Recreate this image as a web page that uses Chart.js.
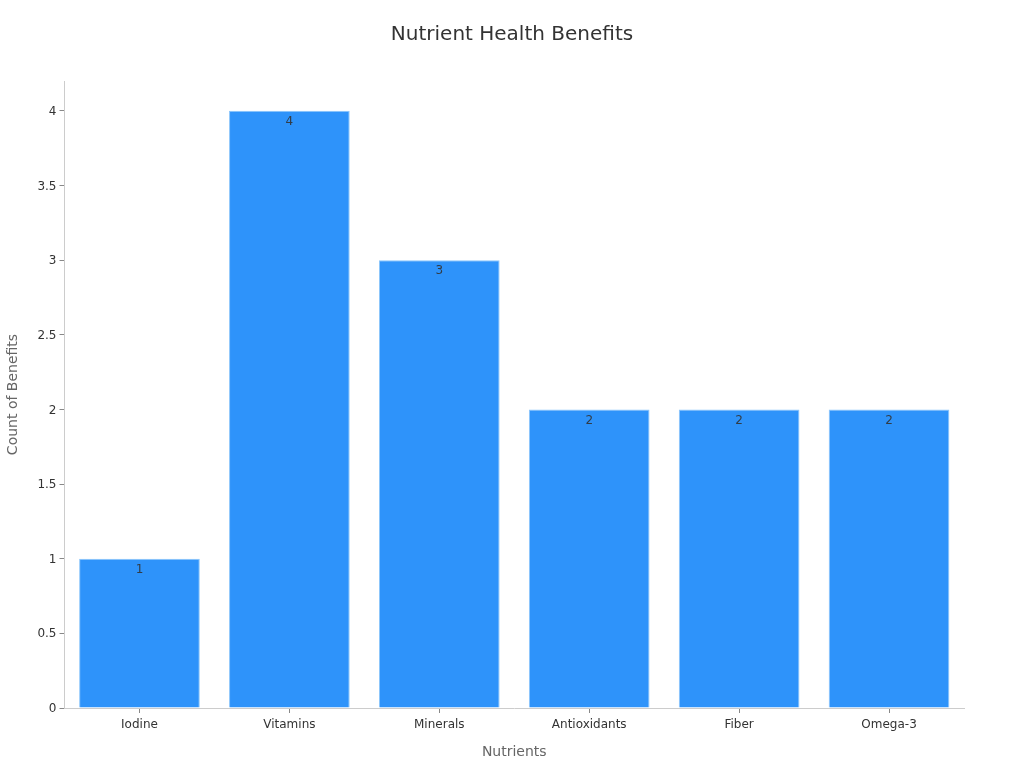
<!DOCTYPE html>
<html>
<head>
<meta charset="utf-8">
<style>
html, body { margin: 0; padding: 0; background: #fff; }
#wrap { position: relative; width: 1024px; height: 768px; }
</style>
<script src="https://cdn.jsdelivr.net/npm/chart.js@4"></script>
</head>
<body>
<div id="wrap"><canvas id="chart" width="1024" height="768"></canvas></div>
<script>
const categories = ["Iodine", "Vitamins", "Minerals", "Antioxidants", "Fiber", "Omega-3"]
const benefits = [1, 4, 3, 2, 2, 2]
const yTicks = [0, 0.5, 1, 1.5, 2, 2.5, 3, 3.5, 4]

// value labels sit just inside the top of each bar
const valueLabels = {
    id: "valueLabels",
    afterDatasetsDraw(chart) {
        const ctx = chart.ctx
        ctx.save()
        ctx.font = "12px 'DejaVu Sans'"
        ctx.fillStyle = "rgba(51,51,51,0.9)"
        ctx.textAlign = "center"
        ctx.textBaseline = "middle"
        chart.getDatasetMeta(0).data.forEach(function(bar, i){
            ctx.fillText(benefits[i], bar.x, bar.y + 11)
        })
        ctx.restore()
    }
}

// title is centred on the whole page, not on the padded layout box
const centerTitle = {
    id: "centerTitle",
    afterLayout(chart) {
        chart.titleBlock.left = 0
        chart.titleBlock.right = chart.width
    }
}

new Chart("chart", {
    type: "bar",
    data: {
        labels: categories,
        datasets: [{
            label: "Count of Benefits",
            data: benefits,
            backgroundColor: "#2e93fa",
            borderColor: "#8cc6fb",
            borderWidth: 1,
            categoryPercentage: 0.805,
            barPercentage: 1
        }]
    },
    options: {
        responsive: false,
        animation: false,
        layout: { padding: { top: 0, right: 60, bottom: 0, left: 0 } },
        plugins: {
            legend: { display: false },
            tooltip: { enabled: false },
            title: {
                display: true,
                text: "Nutrient Health Benefits",
                color: "#333333",
                font: { family: "DejaVu Sans", size: 20, weight: "normal" },
                padding: { top: 23, bottom: 34 }
            }
        },
        scales: {
            x: {
                afterFit(axis) { axis.height = 60 },
                grid: { offset: false, drawOnChartArea: false, drawTicks: true, tickLength: 5, color: "#888888" },
                border: { color: "#cccccc" },
                ticks: { color: "#333333", font: { family: "DejaVu Sans", size: 12 }, padding: 5 },
                title: {
                    display: true,
                    text: "Nutrients",
                    color: "#666666",
                    font: { family: "DejaVu Sans", size: 14 },
                    padding: { top: 10, bottom: 7 }
                }
            },
            y: {
                min: 0,
                max: 4.2,
                afterFit(axis) { axis.width = 64.5 },
                afterBuildTicks(axis) { axis.ticks = yTicks.map(function(v){ return { value: v } }) },
                grid: { drawOnChartArea: false, drawTicks: true, tickLength: 5, color: "#888888" },
                border: { color: "#cccccc" },
                ticks: {
                    color: "#333333",
                    font: { family: "DejaVu Sans", size: 12 },
                    padding: 3,
                    labelOffset: 1,
                    callback: function(value){ return String(value) }
                },
                title: {
                    display: true,
                    text: "Count of Benefits",
                    color: "#666666",
                    font: { family: "DejaVu Sans", size: 14 },
                    padding: { top: 5, bottom: 0 }
                }
            }
        }
    },
    plugins: [valueLabels, centerTitle]
})
</script>
</body>
</html>
